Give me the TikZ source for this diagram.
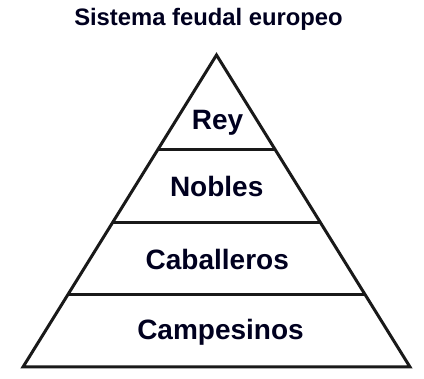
\documentclass[tikz,border=0pt]{standalone}
\usepackage{fontspec}
\setmainfont{Liberation Sans}
\usetikzlibrary{calc}
\begin{document}
\begin{tikzpicture}[x=1pt,y=-1pt,
  lbl/.style={font=\bfseries\fontsize{28}{32}\selectfont, text=black!88!blue, inner sep=0pt, anchor=base},
  ttl/.style={font=\bfseries\fontsize{23.8}{28}\selectfont, text=black!88!blue, inner sep=0pt, anchor=base},
  edge/.style={line width=3pt, line join=miter, draw=black!90}]
\useasboundingbox (0,0) rectangle (424,379);
\coordinate (A) at (216.5,55);
\coordinate (BL) at (23,367);
\coordinate (BR) at (410,367);
\coordinate (L1) at ($(A)!0.304!(BL)$);
\coordinate (R1) at ($(A)!0.304!(BR)$);
\coordinate (L2) at ($(A)!0.538!(BL)$);
\coordinate (R2) at ($(A)!0.538!(BR)$);
\coordinate (L3) at ($(A)!0.769!(BL)$);
\coordinate (R3) at ($(A)!0.769!(BR)$);
\draw[edge] (A) -- (BR) -- (BL) -- cycle;
\draw[edge] (L1) -- (R1);
\draw[edge] (L2) -- (R2);
\draw[edge] (L3) -- (R3);
\node[ttl] (title) at (208.5,26) {Sistema feudal europeo};
\node[lbl] (rey) at (217.5,130) {Rey};
\node[lbl] (nobles) at (216.7,196.7) {Nobles};
\node[lbl] (caballeros) at (217.3,269.3) {Caballeros};
\node[lbl] (campesinos) at (220.5,339.3) {Campesinos};
\end{tikzpicture}
\end{document}
